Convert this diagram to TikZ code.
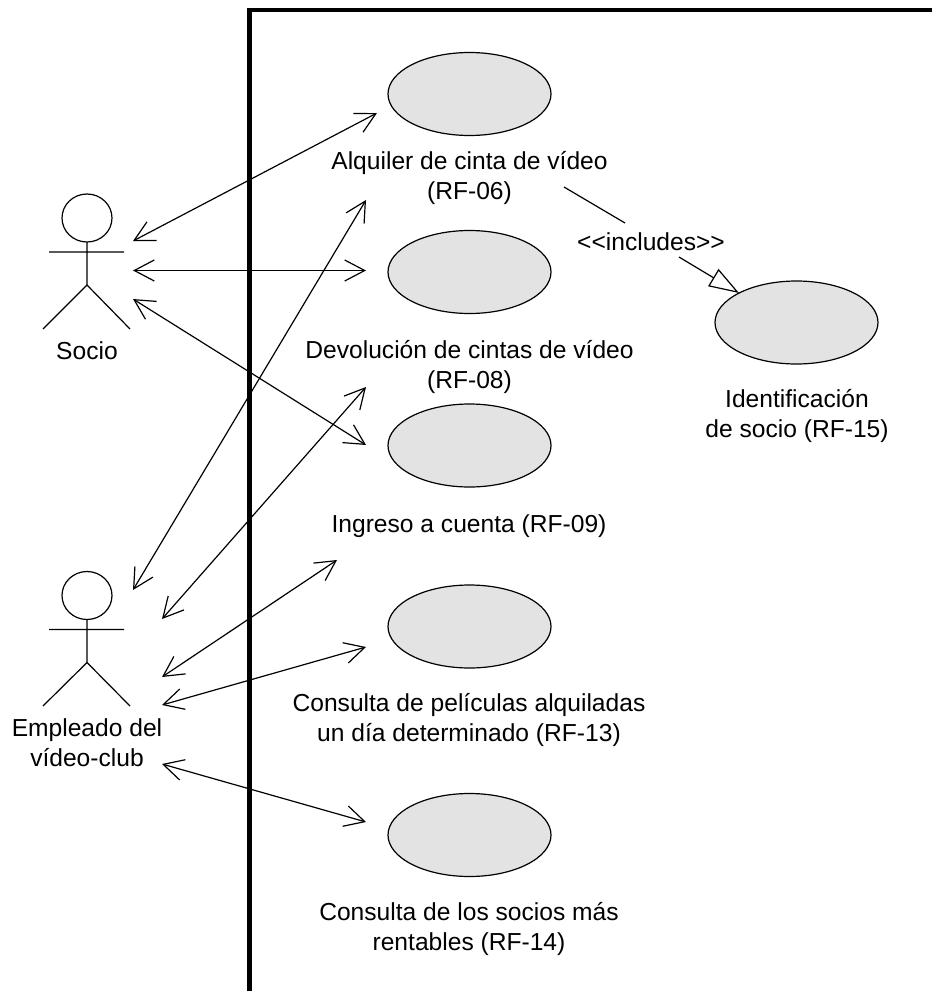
\documentclass[tikz,border=0pt]{standalone}
\usepackage{fontspec}
\setmainfont{Liberation Sans}
\usetikzlibrary{arrows.meta,shapes.geometric}
\tikzset{
  uc/.style={ellipse,draw=black,fill=black!11,line width=1.2pt,minimum width=163pt,minimum height=83pt,inner sep=0pt},
  lbl/.style={align=center,font=\fontsize{24.6}{30}\selectfont,inner sep=0pt},
  assoc/.style={line width=1.2pt,{Straight Barb[length=20pt,width=21pt,line width=1.2pt]}-{Straight Barb[length=20pt,width=21pt,line width=1.2pt]}},
  stick/.style={line width=1.2pt},
  wall/.style={line width=4.5pt}
}
\begin{document}
\begin{tikzpicture}[x=1pt,y=-1pt]
\useasboundingbox (0,0) rectangle (932,991);
\coordinate (w1) at (249.7,991);
\coordinate (w2) at (249.7,10);
\coordinate (w3) at (932,10);
\draw[wall] (w1) -- (w2) -- (w3);
\node[uc] (u1) at (469.5,94) {};
\node[uc] (u2) at (469.5,272) {};
\node[uc] (u3) at (469.5,445.5) {};
\node[uc] (u4) at (469.5,626.5) {};
\node[uc] (u5) at (469.5,835) {};
\node[uc] (u6) at (796.5,322.5) {};
\node[lbl] (t1) at (469.5,178) {Alquiler de cinta de vídeo\\(RF-06)};
\node[lbl] (t2) at (469.5,366.5) {Devolución de cintas de vídeo\\(RF-08)};
\node[lbl] (t3) at (469,526) {Ingreso a cuenta (RF-09)};
\node[lbl] (t4) at (469,720) {Consulta de películas alquiladas\\un día determinado (RF-13)};
\node[lbl] (t5) at (469,929) {Consulta de los socios más\\rentables (RF-14)};
\node[lbl] (t6) at (797,416) {Identificación\\de socio (RF-15)};
\node[lbl] (socio) at (87,351) {Socio};
\node[lbl] (empl) at (87,743) {Empleado del\\vídeo-club};
\node[lbl] (incl) at (651,241.5) {<{}<includes>{}>};
\coordinate (a1h) at (87,218);
\draw[stick] (a1h) circle[x radius=25,y radius=24];
\coordinate (a1n) at (87,242); \coordinate (a1c) at (87,285);
\coordinate (a1l) at (49,252); \coordinate (a1r) at (124,252);
\coordinate (a1f) at (43,329); \coordinate (a1g) at (130,329);
\draw[stick] (a1n) -- (a1c) (a1l) -- (a1r) (a1f) -- (a1c) -- (a1g);
\coordinate (a2h) at (87,595.5);
\draw[stick] (a2h) circle[x radius=25,y radius=24];
\coordinate (a2n) at (87,619.5); \coordinate (a2c) at (87,662.5);
\coordinate (a2l) at (49,629.5); \coordinate (a2r) at (124,629.5);
\coordinate (a2f) at (43,706); \coordinate (a2g) at (130,706);
\draw[stick] (a2n) -- (a2c) (a2l) -- (a2r) (a2f) -- (a2c) -- (a2g);
\coordinate (s1) at (133,241); \coordinate (s1e) at (377,113);
\coordinate (s2) at (133,270.5); \coordinate (s2e) at (366,270.5);
\coordinate (s3) at (133,299); \coordinate (s3e) at (366,445);
\coordinate (e1) at (133,590); \coordinate (e1e) at (366,200);
\coordinate (e2) at (162,619); \coordinate (e2e) at (366,387);
\coordinate (e3) at (162,677); \coordinate (e3e) at (337,560);
\coordinate (e4) at (162,705); \coordinate (e4e) at (366,647);
\coordinate (e5) at (162,764); \coordinate (e5e) at (366,822);
\draw[assoc] (s1) -- (s1e);
\draw[assoc] (s2) -- (s2e);
\draw[assoc] (s3) -- (s3e);
\draw[assoc] (e1) -- (e1e);
\draw[assoc] (e2) -- (e2e);
\draw[assoc] (e3) -- (e3e);
\draw[assoc] (e4) -- (e4e);
\draw[assoc] (e5) -- (e5e);
\coordinate (i0) at (564,187); \coordinate (i1) at (625,223);
\coordinate (i2) at (679,257); \coordinate (i3) at (739,293);
\draw[stick] (i0) -- (i1);
\draw[stick,-{Triangle[open,length=30pt,width=20pt,line width=1.2pt]}] (i2) -- (i3);
\end{tikzpicture}
\end{document}
